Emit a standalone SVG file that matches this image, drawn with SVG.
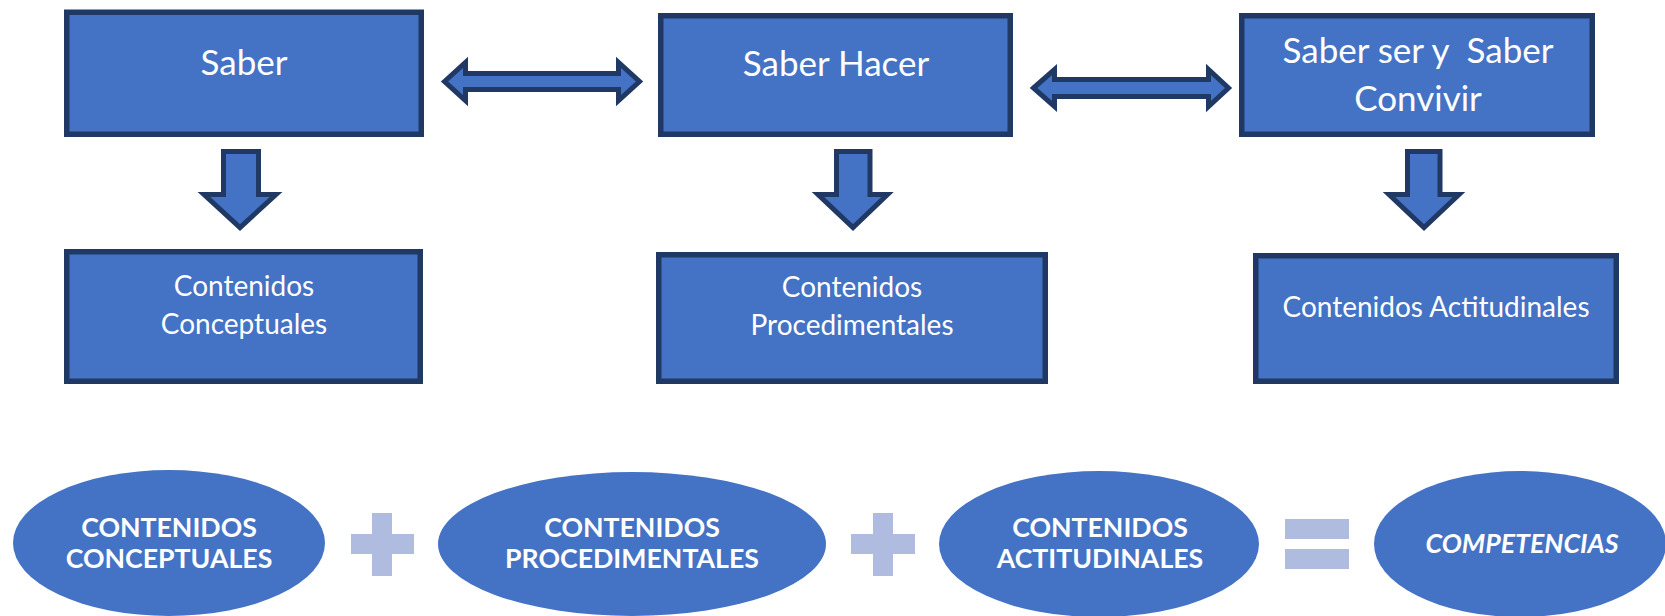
<svg xmlns="http://www.w3.org/2000/svg" width="1665" height="616" viewBox="0 0 1665 616">
<style>
.box{fill:#4472C4;stroke:#203864;stroke-width:5.5}
.arr{fill:#4472C4;stroke:#203864;stroke-width:5;stroke-linejoin:miter}
.ell{fill:#4472C4}
.op{fill:#B0BCDF}
.t1{font-family:Lato,"Open Sans",sans-serif;font-size:35px;fill:#fff;text-anchor:middle}
.t2{font-family:Lato,"Open Sans",sans-serif;font-size:28px;fill:#fff;text-anchor:middle}
.t3{font-family:Lato,"Open Sans",sans-serif;font-size:26.7px;font-weight:bold;fill:#fff;text-anchor:middle}
</style>
<rect width="1665" height="616" fill="#fff"/>
<g id="saber">
<rect class="box" x="66.75" y="12.25" width="354.5" height="122"/>
<text class="t1" x="244" y="75">Saber</text>
</g>
<g id="saber-hacer">
<rect class="box" x="660.75" y="15.75" width="349.5" height="118.5"/>
<text class="t1" x="836" y="76">Saber Hacer</text>
</g>
<g id="saber-ser">
<rect class="box" x="1241.75" y="15.75" width="350.5" height="118.5"/>
<text class="t1" x="1418" y="63" xml:space="preserve">Saber ser y  Saber</text>
<text class="t1" x="1418" y="111">Convivir</text>
</g>
<g id="cont-conceptuales">
<rect class="box" x="66.75" y="251.75" width="353.5" height="129.5"/>
<text class="t2" x="244" y="296">Contenidos</text>
<text class="t2" x="244" y="334">Conceptuales</text>
</g>
<g id="cont-procedimentales">
<rect class="box" x="658.75" y="254.75" width="386.5" height="126.5"/>
<text class="t2" x="852" y="297">Contenidos</text>
<text class="t2" x="852" y="335">Procedimentales</text>
</g>
<g id="cont-actitudinales">
<rect class="box" x="1255.75" y="255.75" width="360.5" height="125.5"/>
<text class="t2" x="1436" y="317">Contenidos Actitudinales</text>
</g>
<g id="connectors">
<polygon class="arr" points="444.5,81.5 465.5,62.5 465.5,73.5 618.5,73.5 618.5,62.5 639.5,81.5 618.5,100.5 618.5,89.5 465.5,89.5 465.5,100.5"/>
<polygon class="arr" points="1033.5,88 1054.5,69.5 1054.5,79.5 1208.5,79.5 1208.5,69.5 1228.5,88 1208.5,106.5 1208.5,96.5 1054.5,96.5 1054.5,106.5"/>
<polygon class="arr" points="223.5,151.5 258.5,151.5 258.5,194.5 276,194.5 240,227.5 204,194.5 223.5,194.5"/>
<polygon class="arr" points="836.5,151.5 870,151.5 870,194.5 887.5,194.5 853,227.5 818,194.5 836.5,194.5"/>
<polygon class="arr" points="1407.5,151.5 1440,151.5 1440,194.5 1459,194.5 1424,227.5 1389,194.5 1407.5,194.5"/>
</g>
<g id="cc-ellipse">
<ellipse class="ell" cx="169" cy="543" rx="156" ry="73"/>
<text class="t3" x="169" y="537">CONTENIDOS</text>
<text class="t3" x="169" y="568">CONCEPTUALES</text>
</g>
<g id="plus1">
<rect class="op" x="372" y="513" width="20" height="63"/>
<rect class="op" x="351" y="534" width="63" height="20"/>
</g>
<g id="cp-ellipse">
<ellipse class="ell" cx="632" cy="544" rx="194" ry="72"/>
<text class="t3" x="632" y="537">CONTENIDOS</text>
<text class="t3" x="632" y="568">PROCEDIMENTALES</text>
</g>
<g id="plus2">
<rect class="op" x="873" y="513" width="20" height="63"/>
<rect class="op" x="851" y="534" width="64" height="20"/>
</g>
<g id="ca-ellipse">
<ellipse class="ell" cx="1099" cy="544" rx="160" ry="73"/>
<text class="t3" x="1100" y="537">CONTENIDOS</text>
<text class="t3" x="1100" y="568">ACTITUDINALES</text>
</g>
<g id="equals">
<rect class="op" x="1285" y="519" width="64" height="20"/>
<rect class="op" x="1285" y="549" width="64" height="20"/>
</g>
<g id="competencias">
<ellipse class="ell" cx="1520" cy="544" rx="146" ry="73"/>
<text class="t3" x="1522" y="553" font-style="italic" font-size="27px">COMPETENCIAS</text>
</g>
</svg>
